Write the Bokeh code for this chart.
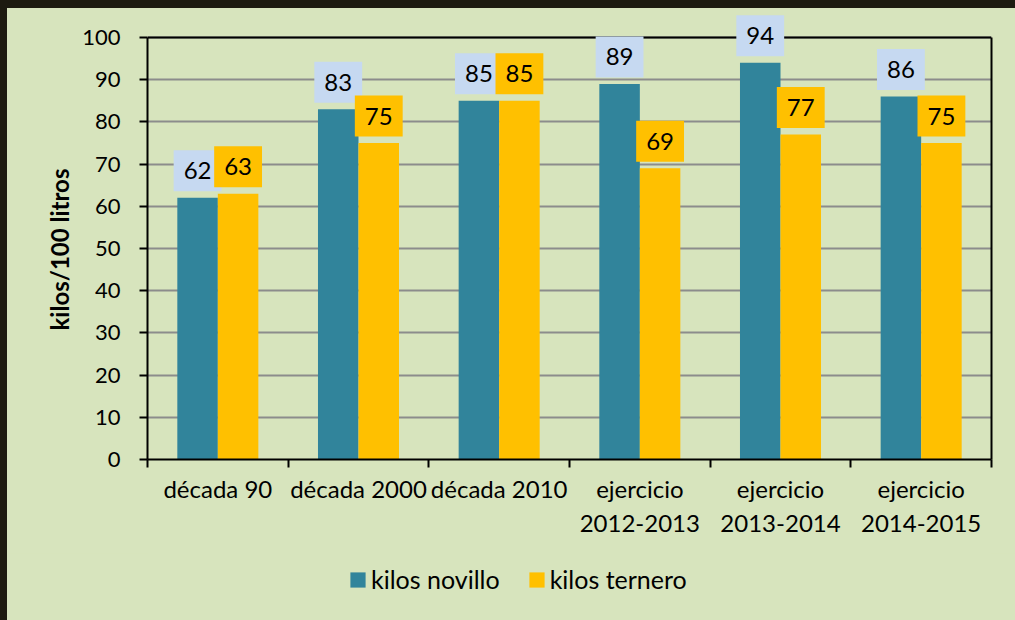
from bokeh.plotting import figure
from bokeh.models import (Range1d, FixedTicker, Legend, LegendItem, ColumnDataSource,
                          LinearAxis, Span, Title)
from bokeh.layouts import column
from bokeh.core.properties import value
from bokeh.embed import file_html
from bokeh.resources import INLINE
import numpy as np

categories = ["década 90", "década 2000", "década 2010",
              "ejercicio\n2012-2013", "ejercicio\n2013-2014", "ejercicio\n2014-2015"]
novillo = [62, 83, 85, 89, 94, 86]
ternero = [63, 75, 85, 69, 77, 75]
y_ticks = [0, 10, 20, 30, 40, 50, 60, 70, 80, 90, 100]
series_names = ["kilos novillo", "kilos ternero"]
y_title = "kilos/100 litros"

BG = "#D7E4BD"
DARK = "#1D1B10"
TEAL = "#31849B"
YELLOW = "#FFC000"
LBLUE = "#C6D9F1"
GRID = "#8C8C8C"
FONT = "Lato"

n = len(categories)
centers = np.arange(n) + 0.5
bar_w = 0.288
y_max = y_ticks[-1]
# extra headroom above the axis so that the data labels above 100 are not clipped
y_top = y_max * 451.0 / 422.0

src = ColumnDataSource(dict(
    xn=centers - bar_w / 2, xt=centers + bar_w / 2,
    nov=novillo, ter=ternero,
    nl=[str(v) for v in novillo], tl=[str(v) for v in ternero],
))

H1 = 545
p = figure(width=1008, height=H1,
           x_range=Range1d(0, n), y_range=Range1d(0, y_top),
           output_backend="svg", toolbar_location=None,
           min_border_left=140, min_border_right=24,
           min_border_top=0, min_border_bottom=H1 - 451)
p.background_fill_color = BG
p.border_fill_color = BG
p.outline_line_color = None

# grid
p.xgrid.visible = False
p.ygrid.ticker = FixedTicker(ticks=y_ticks)
p.ygrid.grid_line_color = GRID
p.ygrid.grid_line_width = 2

top_line = Span(location=y_max, dimension="width", line_color="black",
                line_width=2, level="underlay")
p.add_layout(top_line)

rn = p.vbar(x="xn", top="nov", bottom=0, width=bar_w, source=src,
            fill_color=TEAL, line_color=None)
rt = p.vbar(x="xt", top="ter", bottom=0, width=bar_w, source=src,
            fill_color=YELLOW, line_color=None)

p.text(x="xn", y="nov", text="nl", source=src,
       text_font=value(FONT), text_font_size="24px", text_color="black",
       text_align="center", text_baseline="middle", y_offset=-27,
       background_fill_color=LBLUE, padding=dict(x=10, y=12))
p.text(x="xt", y="ter", text="tl", source=src,
       text_font=value(FONT), text_font_size="24px", text_color="black",
       text_align="center", text_baseline="middle", y_offset=-27,
       background_fill_color=YELLOW, padding=dict(x=10, y=12))

# y axis
ya = p.yaxis[0]
ya.bounds = (0, y_max)
ya.ticker = FixedTicker(ticks=y_ticks, minor_ticks=[])
ya.axis_line_color = "black"
ya.axis_line_width = 2
ya.major_tick_line_color = "black"
ya.major_tick_line_width = 2
ya.major_tick_out = 8
ya.major_tick_in = 0
ya.minor_tick_line_color = None
ya.major_label_text_font = FONT
ya.major_label_text_font_size = "22px"
ya.major_label_text_color = "black"
ya.major_label_standoff = 19

# y axis title (placed along the 0-100 span)
yt = Title(text=y_title, align="left", offset=129, standoff=12,
           text_font=FONT, text_font_size="24px", text_font_style="bold",
           text_color="black")
p.add_layout(yt, "left")

# right frame line
ra = LinearAxis(bounds=(0, y_max), ticker=FixedTicker(ticks=[], minor_ticks=[]),
                axis_line_color="black", axis_line_width=2,
                major_tick_line_color=None, minor_tick_line_color=None,
                major_label_text_font_size="0px")
p.add_layout(ra, "right")

# x axis: labels at centres, ticks at category boundaries
xa = p.xaxis[0]
xa.ticker = FixedTicker(ticks=[float(c) for c in centers],
                        minor_ticks=[float(i) for i in range(n + 1)])
xa.major_label_overrides = {float(c): lab for c, lab in zip(centers, categories)}
xa.axis_line_color = "black"
xa.axis_line_width = 2
xa.major_tick_line_color = None
xa.major_tick_out = 0
xa.major_tick_in = 0
xa.minor_tick_line_color = "black"
xa.minor_tick_line_width = 2
xa.minor_tick_out = 8
xa.minor_tick_in = 0
xa.major_label_text_font = FONT
xa.major_label_text_font_size = "24px"
xa.major_label_text_color = "black"
xa.major_label_standoff = 6

# legend strip below the chart
H2 = 612 - H1
p2 = figure(width=1008, height=H2, x_range=Range1d(0, 1), y_range=Range1d(0, 1),
            output_backend="svg", toolbar_location=None,
            min_border_left=0, min_border_right=0, min_border_top=0, min_border_bottom=0)
p2.background_fill_color = BG
p2.border_fill_color = BG
p2.outline_line_color = None
p2.axis.visible = False
p2.grid.visible = False
# zero-height proxies (outside the strip's range) that only feed the legend swatches
ln = p2.vbar(x="xn", top=0, bottom=0, width=bar_w, source=src,
             fill_color=TEAL, line_color=None)
lt = p2.vbar(x="xt", top=0, bottom=0, width=bar_w, source=src,
             fill_color=YELLOW, line_color=None)
legend = Legend(items=[LegendItem(label=series_names[0], renderers=[ln]),
                       LegendItem(label=series_names[1], renderers=[lt])],
                orientation="horizontal", location=(201, 26),
                glyph_width=19, glyph_height=19, label_standoff=4, spacing=27,
                padding=0, margin=0, border_line_color=None,
                background_fill_alpha=0,
                label_text_font=FONT, label_text_font_size="25px",
                label_text_color="black")
p2.add_layout(legend, "center")

layout = column(p, p2, spacing=0)

html = file_html(layout, INLINE, title="kilos/100 litros")
html = html.replace(
    "</head>",
    "<style>html{background:%s;} body{background:transparent; padding:8px 0 0 7px !important;"
    " box-shadow: inset 7px 8px 0 0 %s;}</style></head>" % (BG, DARK),
    1)
open("out.html", "w").write(html)
